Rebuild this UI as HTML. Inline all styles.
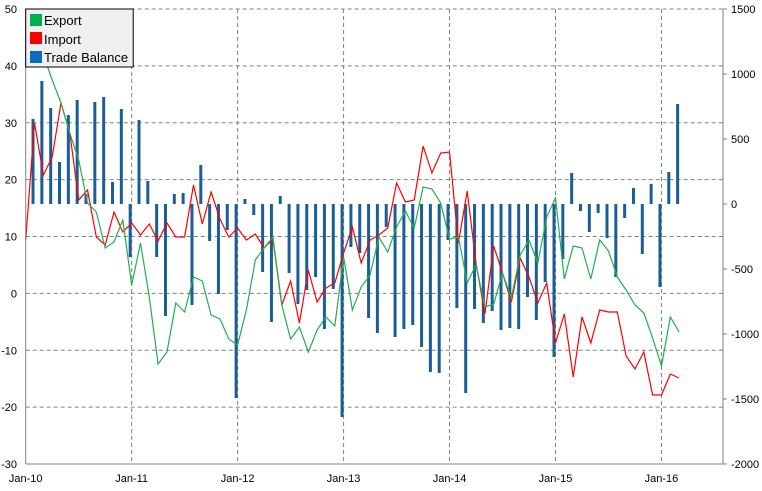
<!DOCTYPE html>
<html><head><meta charset="utf-8"><style>
body{margin:0;background:#fff;width:762px;height:491px;overflow:hidden}
svg{display:block;font-family:"Liberation Sans",sans-serif}
</style></head><body>
<svg id="s" width="762" height="491" xmlns="http://www.w3.org/2000/svg">
<g id="grid" stroke="#808080" stroke-dasharray="4,3" stroke-width="1"></g>
<g id="bars" fill="#1a5e98"></g>
<polyline id="imp" fill="none" stroke="#ff0000" stroke-width="1.2"/>
<polyline id="exp" fill="none" stroke="#22b04c" stroke-width="1.2"/>
<line x1="25.7" y1="9" x2="25.7" y2="464" stroke="#808080"/>
<line x1="723" y1="9" x2="723" y2="464" stroke="#808080"/>
<line x1="25.7" y1="464" x2="723" y2="464" stroke="#808080"/>
<g id="tk" stroke="#808080"></g>
<g id="lbl" font-size="11" fill="#000"></g>
<rect x="25.7" y="9" width="107.5" height="58" fill="#f0f0f0" stroke="#000" stroke-width="1"/>
<rect x="30" y="14" width="12" height="12" fill="#00b050"/>
<rect x="30" y="32" width="12" height="12" fill="#ff0000"/>
<rect x="30" y="51" width="12" height="12" fill="#0f6cbd"/>
<text x="44" y="25" font-size="13">Export</text>
<text x="44" y="44" font-size="13">Import</text>
<text x="44" y="62" font-size="13">Trade Balance</text>
</svg>
<script>
(function(){
var NS="http://www.w3.org/2000/svg";
function el(t,a,p,txt){var e=document.createElementNS(NS,t);for(var k in a)e.setAttribute(k,a[k]);if(txt!=null)e.textContent=txt;document.getElementById(p).appendChild(e);}
var T=9,B=464,L=25.7,R=723;
for(var i=0;i<=8;i++){var y=T+(B-T)*i/8;
 if(i<8)el('line',{x1:L,y1:y,x2:R,y2:y},'grid');
 el('text',{x:17,y:y+4,'text-anchor':'end'},'lbl',String(50-10*i));}
for(var k=0;k<=7;k++){var y2=T+(B-T)*k/7;
 el('line',{x1:723,y1:y2,x2:727,y2:y2},'tk');
 el('text',{x:731,y:y2+4},'lbl',String(1500-500*k));}
var yrs=['Jan-10','Jan-11','Jan-12','Jan-13','Jan-14','Jan-15','Jan-16'];
var step=8.83;
for(var j=0;j<7;j++){var x=L+12*step*j;
 if(j>0)el('line',{x1:x,y1:T,x2:x,y2:B},'grid');
 el('text',{x:x,y:482,'text-anchor':'middle'},'lbl',yrs[j]);}
var ex=[63,43,55,80,103,133,160,203,212,248,242,220,285,243,297,364,352,303,312,277,281,315,319,339,345,310,260,248,237,305,339,327,352,330,317,326,257,310,287,275,237,252,227,211,228,187,189,203,239,237,283,265,307,304,273,298,255,240,263,217,198,279,246,248,279,240,251,277,290,305,313,338,366,317,332];
var im=[240,123,175,157,103,133,200,190,237,245,212,232,223,235,224,241,223,237,237,185,224,192,219,237,228,240,234,248,239,305,281,323,270,302,288,283,253,227,263,240,235,228,183,202,200,146,173,153,152,243,191,263,314,246,273,302,258,277,303,283,343,314,377,317,343,310,312,312,356,369,352,395,395,374,378];
var tb=[203.5,119,81,108,162,115,100,194,102,97,182,109,257,120,181,257,316,194,193,305,165,241,294,230,398,199,215,272,322,196,273,304,290,277,329,289,417,247,253,318,333,227,337,329,325,347,372,373,240,308,393,309,323,311,330,328,329,297,320,282,357,259,173,211,232,213,238,277,218,188,254,184,287,172,104];
function pts(a){return a.map(function(v,i){return (L+step*i).toFixed(1)+','+v}).join(' ');}
document.getElementById('exp').setAttribute('points',pts(ex));
document.getElementById('imp').setAttribute('points',pts(im));
var b0=204;
tb.forEach(function(v,i){var x=L+step*i-3;var y=Math.min(v,b0),h=Math.abs(v-b0);if(h>0.5)el('rect',{x:x,y:y,width:3,height:h},'bars');});
})();
</script>
</body></html>
